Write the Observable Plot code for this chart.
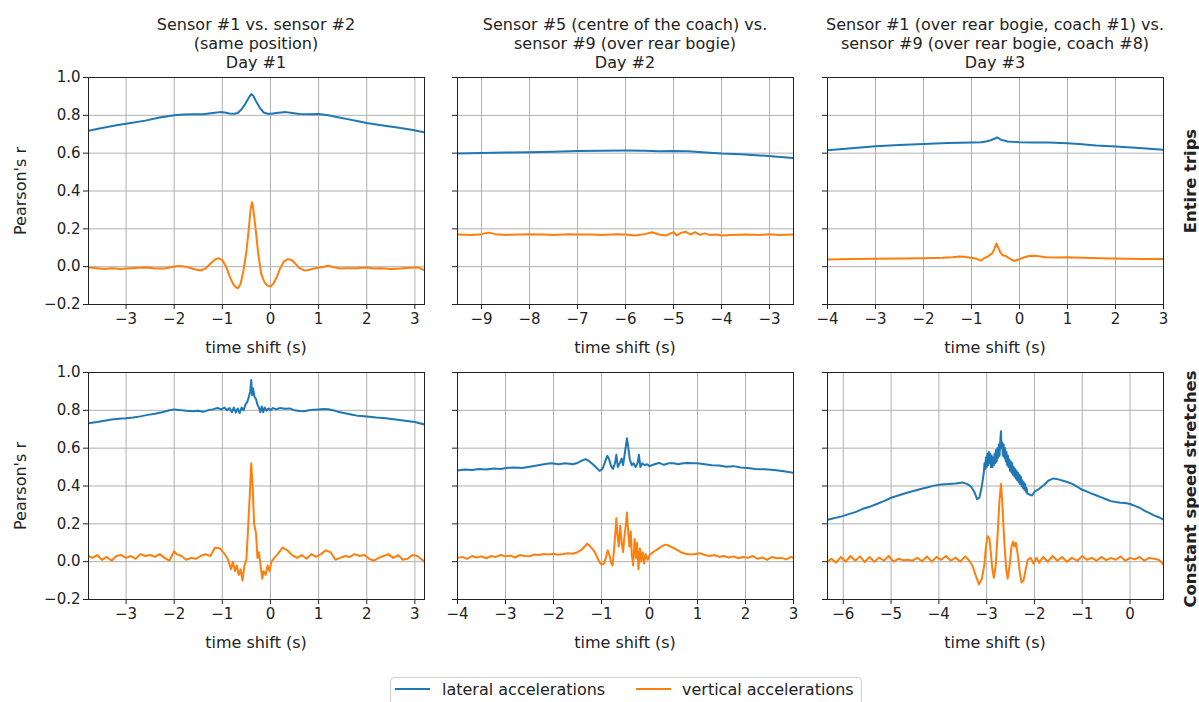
<!DOCTYPE html>
<html>
<head>
<meta charset="utf-8">
<script src="https://cdn.jsdelivr.net/npm/d3@7"></script>
<script src="https://cdn.jsdelivr.net/npm/@observablehq/plot@0.6"></script>
<style>
  body { margin: 0; background: #fff; font-family: "DejaVu Sans", sans-serif; color: #222; }
  #fig { position: relative; width: 1199px; height: 702px; overflow: hidden; background: #fff; }
  .abs { position: absolute; white-space: nowrap; }
  .title { font-size: 16px; line-height: 19px; text-align: center; width: 420px; transform: translateX(-50%); }
  .xlab { font-size: 16px; transform: translate(-50%, -50%); }
  .rot { font-size: 16px; transform: translate(-50%, -50%) rotate(-90deg); }
  .rowlab { font-size: 16.4px; font-weight: bold; transform: translate(-50%, -50%) rotate(-90deg); }
  .legend { border: 1px solid #cfcfcf; border-radius: 4px; background: #fff; }
  .swatch { height: 2px; }
  .legtext { font-size: 16px; transform: translateY(-50%); }
</style>
</head>
<body>
<div id="fig"></div>
<script>
// ---- Panel titles -------------------------------------------------------
const colTitles = [
  ["Sensor #1 vs. sensor #2", "(same position)", "Day #1"],
  ["Sensor #5 (centre of the coach) vs.", "sensor #9 (over rear bogie)", "Day #2"],
  ["Sensor #1 (over rear bogie, coach #1) vs.", "sensor #9 (over rear bogie, coach #8)", "Day #3"]
];
const rowLabels = ["Entire trips", "Constant speed stretches"];
const seriesNames = ["lateral accelerations", "vertical accelerations"];
const seriesColors = ["#1f77b4", "#ff7f0e"];
const yTicks = [-0.2, 0.0, 0.2, 0.4, 0.6, 0.8, 1.0];

// ---- x domains and ticks per panel ------------------------------------------
const xDomainDay1 = [-3.78, 3.2];
const xTicksDay1 = [-3, -2, -1, 0, 1, 2, 3];
const xDomainDay2Entire = [-9.5, -2.5];
const xTicksDay2Entire = [-9, -8, -7, -6, -5, -4, -3];
const xDomainMinus4To3 = [-4, 3];
const xTicksMinus4To3 = [-4, -3, -2, -1, 0, 1, 2, 3];
const xDomainDay3Const = [-6.33, 0.7];
const xTicksDay3Const = [-6, -5, -4, -3, -2, -1, 0];

// ---- Entire trips, Day #1: [time shift (s), Pearson's r] --------------------
const day1EntireLat = [[-3.78,0.718],[-3.5,0.733],[-3.2,0.748],[-2.9,0.760],[-2.6,0.772],[-2.3,0.788],[-2.0,0.800],[-1.8,0.805],[-1.6,0.806],[-1.4,0.806],[-1.2,0.812],[-1.05,0.817],[-0.95,0.815],[-0.85,0.810],[-0.75,0.808],[-0.68,0.812],[-0.6,0.832],[-0.52,0.862],[-0.45,0.893],[-0.40,0.912],[-0.36,0.905],[-0.30,0.875],[-0.22,0.840],[-0.14,0.815],[-0.06,0.808],[0.02,0.808],[0.12,0.812],[0.22,0.815],[0.32,0.817],[0.45,0.812],[0.6,0.807],[0.8,0.806],[1.0,0.807],[1.2,0.800],[1.4,0.790],[1.6,0.780],[1.8,0.770],[2.0,0.760],[2.3,0.748],[2.6,0.737],[2.9,0.725],[3.2,0.710]];
const day1EntireVert = [[-3.78,-0.005],[-3.6,-0.008],[-3.45,-0.012],[-3.3,-0.008],[-3.1,-0.012],[-2.9,-0.008],[-2.7,-0.006],[-2.55,-0.004],[-2.4,-0.01],[-2.2,-0.01],[-2.05,-0.002],[-1.9,0.004],[-1.75,0.0],[-1.6,-0.012],[-1.45,-0.02],[-1.35,-0.01],[-1.25,0.015],[-1.15,0.038],[-1.08,0.045],[-1.0,0.035],[-0.92,0.0],[-0.85,-0.05],[-0.78,-0.09],[-0.72,-0.11],[-0.67,-0.113],[-0.62,-0.09],[-0.56,-0.02],[-0.5,0.08],[-0.45,0.2],[-0.41,0.31],[-0.38,0.34],[-0.35,0.29],[-0.3,0.18],[-0.25,0.06],[-0.19,-0.04],[-0.12,-0.085],[-0.06,-0.1],[0.0,-0.105],[0.06,-0.09],[0.12,-0.06],[0.2,-0.01],[0.28,0.028],[0.36,0.04],[0.44,0.035],[0.52,0.015],[0.6,-0.008],[0.7,-0.02],[0.8,-0.018],[0.9,-0.01],[1.0,-0.005],[1.1,-0.002],[1.2,0.005],[1.3,-0.002],[1.45,-0.01],[1.6,-0.008],[1.8,-0.008],[2.0,-0.004],[2.15,-0.01],[2.3,-0.008],[2.5,-0.012],[2.7,-0.01],[2.9,-0.006],[3.05,-0.004],[3.2,-0.018]];

// ---- Entire trips, Day #2 ---------------------------------------------------
const day2EntireLat = [[-9.5,0.598],[-9.0,0.601],[-8.5,0.603],[-8.0,0.605],[-7.5,0.608],[-7.0,0.611],[-6.5,0.613],[-6.0,0.614],[-5.6,0.613],[-5.3,0.610],[-5.0,0.612],[-4.7,0.610],[-4.4,0.605],[-4.0,0.598],[-3.6,0.594],[-3.2,0.588],[-2.9,0.582],[-2.5,0.574]];
const day2EntireVert = [[-9.5,0.17],[-9.2,0.168],[-9.0,0.172],[-8.85,0.18],[-8.7,0.172],[-8.5,0.168],[-8.2,0.17],[-8.0,0.172],[-7.7,0.17],[-7.5,0.168],[-7.2,0.172],[-7.0,0.17],[-6.7,0.17],[-6.5,0.168],[-6.2,0.172],[-6.0,0.17],[-5.8,0.165],[-5.6,0.172],[-5.45,0.182],[-5.3,0.17],[-5.15,0.165],[-5.0,0.183],[-4.93,0.165],[-4.85,0.178],[-4.75,0.185],[-4.65,0.17],[-4.55,0.182],[-4.45,0.168],[-4.35,0.176],[-4.25,0.168],[-4.1,0.17],[-4.0,0.165],[-3.8,0.168],[-3.5,0.17],[-3.2,0.168],[-3.0,0.172],[-2.8,0.168],[-2.5,0.17]];

// ---- Entire trips, Day #3 ---------------------------------------------------
const day3EntireLat = [[-4,0.616],[-3.5,0.626],[-3,0.636],[-2.5,0.643],[-2,0.649],[-1.5,0.654],[-1.0,0.657],[-0.8,0.658],[-0.7,0.662],[-0.6,0.668],[-0.52,0.676],[-0.47,0.683],[-0.43,0.678],[-0.38,0.67],[-0.32,0.667],[-0.25,0.662],[-0.15,0.66],[0,0.658],[0.3,0.657],[0.6,0.656],[1.0,0.653],[1.3,0.647],[1.6,0.64],[2.0,0.635],[2.5,0.627],[3.0,0.618]];
const day3EntireVert = [[-4,0.038],[-3.5,0.04],[-3,0.042],[-2.5,0.043],[-2,0.045],[-1.6,0.047],[-1.4,0.05],[-1.25,0.054],[-1.15,0.052],[-1.05,0.048],[-0.95,0.044],[-0.88,0.04],[-0.8,0.032],[-0.74,0.045],[-0.68,0.05],[-0.62,0.062],[-0.57,0.07],[-0.52,0.095],[-0.48,0.122],[-0.44,0.1],[-0.4,0.075],[-0.35,0.06],[-0.3,0.058],[-0.25,0.05],[-0.2,0.042],[-0.15,0.035],[-0.1,0.03],[-0.05,0.035],[0,0.04],[0.1,0.05],[0.2,0.056],[0.3,0.058],[0.4,0.055],[0.55,0.05],[0.8,0.048],[1.0,0.05],[1.3,0.047],[1.7,0.044],[2.2,0.042],[2.6,0.04],[3.0,0.04]];

// ---- Constant speed stretches, Day #1 ---------------------------------------
const day1ConstLat = [[-3.78,0.732],[-3.6,0.738],[-3.45,0.745],[-3.3,0.752],[-3.15,0.755],[-3.0,0.758],[-2.85,0.762],[-2.7,0.768],[-2.55,0.776],[-2.4,0.782],[-2.25,0.79],[-2.1,0.8],[-2.0,0.805],[-1.9,0.802],[-1.75,0.798],[-1.6,0.795],[-1.5,0.798],[-1.4,0.792],[-1.3,0.8],[-1.2,0.805],[-1.1,0.812],[-1.02,0.805],[-0.96,0.815],[-0.9,0.8],[-0.85,0.812],[-0.8,0.79],[-0.76,0.815],[-0.72,0.788],[-0.68,0.81],[-0.64,0.785],[-0.6,0.815],[-0.56,0.8],[-0.52,0.83],[-0.48,0.845],[-0.45,0.87],[-0.42,0.9],[-0.40,0.96],[-0.38,0.88],[-0.36,0.915],[-0.33,0.87],[-0.3,0.86],[-0.27,0.83],[-0.24,0.815],[-0.21,0.79],[-0.18,0.82],[-0.15,0.79],[-0.12,0.815],[-0.08,0.798],[-0.04,0.81],[0.0,0.8],[0.05,0.812],[0.12,0.805],[0.2,0.812],[0.3,0.808],[0.4,0.81],[0.5,0.8],[0.6,0.797],[0.7,0.795],[0.8,0.8],[0.9,0.803],[1.0,0.805],[1.1,0.807],[1.2,0.806],[1.3,0.8],[1.4,0.793],[1.5,0.787],[1.6,0.782],[1.7,0.777],[1.8,0.772],[1.9,0.77],[2.0,0.768],[2.2,0.762],[2.4,0.758],[2.6,0.752],[2.8,0.745],[3.0,0.738],[3.2,0.725]];
const day1ConstVert = [[-3.78,0.03],[-3.7,0.02],[-3.6,0.035],[-3.5,0.01],[-3.4,0.025],[-3.3,0.005],[-3.2,0.03],[-3.1,0.035],[-3.0,0.02],[-2.9,0.03],[-2.8,0.015],[-2.7,0.04],[-2.6,0.03],[-2.5,0.035],[-2.4,0.025],[-2.3,0.04],[-2.2,0.02],[-2.1,0.005],[-2.0,0.055],[-1.95,0.04],[-1.85,0.03],[-1.75,0.01],[-1.65,0.02],[-1.55,0.015],[-1.45,0.03],[-1.35,0.04],[-1.25,0.03],[-1.15,0.075],[-1.05,0.07],[-0.95,0.04],[-0.88,0.01],[-0.82,-0.04],[-0.78,0.0],[-0.74,-0.05],[-0.7,-0.02],[-0.66,-0.07],[-0.62,-0.04],[-0.58,-0.1],[-0.54,-0.02],[-0.5,0.01],[-0.47,0.15],[-0.43,0.35],[-0.4,0.52],[-0.37,0.4],[-0.34,0.2],[-0.3,0.15],[-0.27,0.02],[-0.24,0.05],[-0.2,-0.03],[-0.17,-0.09],[-0.14,-0.05],[-0.1,-0.07],[-0.06,-0.02],[-0.02,-0.05],[0.02,0.0],[0.08,0.02],[0.15,0.04],[0.25,0.075],[0.35,0.06],[0.45,0.035],[0.55,0.02],[0.65,0.035],[0.75,0.015],[0.85,0.04],[0.95,0.025],[1.05,0.04],[1.15,0.06],[1.25,0.05],[1.35,0.01],[1.45,0.02],[1.55,0.03],[1.65,0.025],[1.75,0.04],[1.85,0.03],[1.95,0.035],[2.05,0.015],[2.15,0.005],[2.25,0.02],[2.35,0.03],[2.45,0.04],[2.55,0.02],[2.65,0.035],[2.75,0.01],[2.85,0.015],[2.95,0.035],[3.05,0.03],[3.15,0.01],[3.2,0.0]];

// ---- Constant speed stretches, Day #2 ---------------------------------------
const day2ConstLat = [[-4,0.482],[-3.85,0.487],[-3.7,0.484],[-3.55,0.49],[-3.4,0.487],[-3.25,0.492],[-3.1,0.49],[-2.95,0.496],[-2.8,0.498],[-2.65,0.495],[-2.5,0.502],[-2.35,0.508],[-2.2,0.515],[-2.05,0.52],[-1.9,0.515],[-1.75,0.52],[-1.6,0.515],[-1.5,0.522],[-1.4,0.535],[-1.33,0.542],[-1.25,0.53],[-1.18,0.515],[-1.1,0.495],[-1.04,0.48],[-0.98,0.49],[-0.93,0.525],[-0.88,0.56],[-0.84,0.54],[-0.8,0.505],[-0.76,0.49],[-0.72,0.52],[-0.69,0.565],[-0.66,0.5],[-0.62,0.52],[-0.58,0.545],[-0.55,0.51],[-0.51,0.58],[-0.47,0.652],[-0.44,0.6],[-0.41,0.54],[-0.37,0.51],[-0.33,0.52],[-0.29,0.5],[-0.25,0.52],[-0.22,0.565],[-0.19,0.5],[-0.15,0.52],[-0.1,0.51],[-0.05,0.515],[0.0,0.505],[0.1,0.515],[0.2,0.522],[0.3,0.512],[0.4,0.52],[0.5,0.52],[0.6,0.515],[0.7,0.52],[0.8,0.522],[0.9,0.52],[1.0,0.52],[1.15,0.515],[1.3,0.51],[1.45,0.508],[1.6,0.502],[1.75,0.505],[1.9,0.498],[2.05,0.495],[2.2,0.49],[2.4,0.488],[2.6,0.485],[2.8,0.478],[3.0,0.47]];
const day2ConstVert = [[-4,0.02],[-3.9,0.025],[-3.8,0.015],[-3.7,0.03],[-3.6,0.022],[-3.5,0.028],[-3.4,0.018],[-3.3,0.03],[-3.2,0.025],[-3.1,0.035],[-3.0,0.028],[-2.9,0.032],[-2.8,0.022],[-2.7,0.035],[-2.6,0.03],[-2.5,0.028],[-2.4,0.038],[-2.3,0.035],[-2.2,0.04],[-2.1,0.038],[-2.0,0.042],[-1.9,0.036],[-1.8,0.04],[-1.7,0.045],[-1.6,0.042],[-1.5,0.05],[-1.42,0.062],[-1.35,0.08],[-1.3,0.095],[-1.25,0.085],[-1.2,0.07],[-1.15,0.055],[-1.1,0.03],[-1.05,0.0],[-1.0,-0.015],[-0.95,-0.01],[-0.91,0.02],[-0.87,0.06],[-0.83,0.03],[-0.8,-0.005],[-0.77,-0.02],[-0.74,0.06],[-0.71,0.16],[-0.69,0.23],[-0.67,0.15],[-0.64,0.08],[-0.61,0.19],[-0.58,0.1],[-0.55,0.05],[-0.52,0.14],[-0.49,0.2],[-0.47,0.26],[-0.45,0.18],[-0.42,0.08],[-0.39,0.16],[-0.37,0.04],[-0.34,-0.02],[-0.31,0.12],[-0.28,0.02],[-0.26,0.1],[-0.23,-0.04],[-0.2,0.07],[-0.17,0.0],[-0.14,0.05],[-0.11,-0.01],[-0.08,0.04],[-0.04,0.01],[0.0,0.035],[0.05,0.045],[0.1,0.055],[0.18,0.068],[0.25,0.08],[0.32,0.09],[0.4,0.085],[0.48,0.075],[0.56,0.065],[0.65,0.05],[0.75,0.042],[0.85,0.038],[0.95,0.04],[1.05,0.045],[1.15,0.035],[1.25,0.03],[1.35,0.035],[1.45,0.025],[1.55,0.03],[1.65,0.022],[1.75,0.028],[1.85,0.018],[1.95,0.025],[2.05,0.02],[2.15,0.03],[2.25,0.015],[2.35,0.022],[2.45,0.01],[2.55,0.025],[2.65,0.018],[2.75,0.02],[2.85,0.012],[2.95,0.025],[3.0,0.02]];

// ---- Constant speed stretches, Day #3 ---------------------------------------
const day3ConstLat = [[-6.33,0.222],[-6.2,0.23],[-6.05,0.238],[-5.9,0.25],[-5.75,0.262],[-5.6,0.278],[-5.45,0.29],[-5.3,0.305],[-5.15,0.32],[-5.0,0.338],[-4.85,0.35],[-4.7,0.362],[-4.55,0.372],[-4.4,0.383],[-4.25,0.392],[-4.1,0.402],[-3.95,0.408],[-3.8,0.41],[-3.65,0.413],[-3.5,0.418],[-3.4,0.41],[-3.32,0.395],[-3.26,0.37],[-3.2,0.33],[-3.15,0.34],[-3.1,0.4],[-3.06,0.47],[-3.045,0.52],[-3.03,0.49],[-3.015,0.55],[-3.0,0.5],[-2.985,0.57],[-2.97,0.51],[-2.955,0.58],[-2.94,0.52],[-2.925,0.57],[-2.91,0.5],[-2.895,0.56],[-2.88,0.5],[-2.865,0.55],[-2.85,0.51],[-2.835,0.57],[-2.82,0.52],[-2.805,0.59],[-2.79,0.53],[-2.775,0.6],[-2.76,0.55],[-2.745,0.62],[-2.73,0.56],[-2.715,0.64],[-2.7,0.69],[-2.69,0.6],[-2.675,0.63],[-2.66,0.56],[-2.645,0.62],[-2.63,0.55],[-2.615,0.6],[-2.6,0.53],[-2.585,0.58],[-2.57,0.51],[-2.555,0.56],[-2.54,0.5],[-2.525,0.54],[-2.51,0.48],[-2.495,0.53],[-2.48,0.47],[-2.465,0.52],[-2.45,0.46],[-2.435,0.5],[-2.42,0.45],[-2.405,0.49],[-2.39,0.44],[-2.375,0.48],[-2.36,0.43],[-2.345,0.47],[-2.33,0.42],[-2.315,0.46],[-2.3,0.41],[-2.285,0.45],[-2.27,0.4],[-2.255,0.43],[-2.24,0.39],[-2.225,0.42],[-2.21,0.38],[-2.195,0.41],[-2.18,0.37],[-2.165,0.39],[-2.15,0.36],[-2.1,0.355],[-2.05,0.35],[-2.0,0.37],[-1.9,0.385],[-1.8,0.405],[-1.7,0.43],[-1.6,0.44],[-1.5,0.435],[-1.4,0.428],[-1.3,0.42],[-1.2,0.41],[-1.1,0.395],[-1.0,0.38],[-0.9,0.37],[-0.8,0.36],[-0.7,0.35],[-0.6,0.34],[-0.5,0.33],[-0.4,0.32],[-0.3,0.315],[-0.2,0.312],[-0.1,0.31],[0.0,0.305],[0.1,0.295],[0.2,0.285],[0.3,0.27],[0.4,0.258],[0.5,0.245],[0.6,0.235],[0.7,0.222]];
const day3ConstVert = [[-6.33,0.0],[-6.25,0.015],[-6.15,-0.005],[-6.05,0.025],[-5.95,0.0],[-5.85,0.03],[-5.75,0.005],[-5.65,0.028],[-5.55,-0.002],[-5.45,0.025],[-5.35,0.0],[-5.25,0.022],[-5.15,0.005],[-5.05,0.03],[-4.95,0.0],[-4.85,0.015],[-4.75,0.008],[-4.65,0.01],[-4.55,0.005],[-4.45,0.02],[-4.35,0.002],[-4.25,0.028],[-4.15,0.0],[-4.05,0.025],[-3.95,0.01],[-3.85,0.03],[-3.75,0.005],[-3.65,0.022],[-3.55,0.0],[-3.45,0.028],[-3.38,0.01],[-3.3,-0.02],[-3.22,-0.08],[-3.16,-0.12],[-3.1,-0.09],[-3.05,-0.02],[-3.01,0.09],[-2.98,0.135],[-2.94,0.12],[-2.91,0.04],[-2.88,-0.04],[-2.85,-0.085],[-2.81,-0.02],[-2.77,0.15],[-2.73,0.33],[-2.7,0.41],[-2.67,0.3],[-2.63,0.1],[-2.59,-0.04],[-2.56,-0.09],[-2.52,-0.02],[-2.48,0.08],[-2.45,0.105],[-2.42,0.08],[-2.39,0.1],[-2.35,0.04],[-2.31,-0.05],[-2.27,-0.11],[-2.23,-0.1],[-2.19,-0.05],[-2.14,0.01],[-2.08,0.02],[-2.02,-0.01],[-1.96,0.02],[-1.9,-0.005],[-1.82,0.025],[-1.72,0.0],[-1.62,0.03],[-1.52,0.005],[-1.42,0.025],[-1.32,0.0],[-1.22,0.02],[-1.1,0.005],[-1.0,0.03],[-0.9,0.01],[-0.8,0.02],[-0.7,0.005],[-0.6,0.025],[-0.5,0.008],[-0.4,0.02],[-0.3,0.01],[-0.2,0.028],[-0.1,0.005],[0.0,0.02],[0.1,0.012],[0.2,0.025],[0.3,0.005],[0.4,0.02],[0.5,0.015],[0.6,0.01],[0.7,-0.015]];

// ---- Layout --------------------------------------------------------------
const fig = document.getElementById("fig");
const frameW = 336, frameH = 227;
const colLeft = [88, 457, 827];
const rowTop = [77, 372];
const fmtInt = d3.format("d");
const fmt1 = d3.format(".1f");

function addDiv(cls, text, left, top, extra = {}) {
  const el = document.createElement("div");
  el.className = "abs " + cls;
  el.textContent = text;
  el.style.left = left + "px";
  el.style.top = top + "px";
  Object.assign(el.style, extra);
  fig.appendChild(el);
  return el;
}

function panel(col, row, domain, ticks, lat, vert) {
  const mL = 52, mR = 8, mT = 8, mB = 34;
  const svg = Plot.plot({
    width: frameW + mL + mR,
    height: frameH + mT + mB,
    marginLeft: mL, marginRight: mR, marginTop: mT, marginBottom: mB,
    style: {fontFamily: "DejaVu Sans", fontSize: "15px", color: "#222", background: "none", overflow: "visible"},
    x: {domain, label: null},
    y: {domain: [-0.2, 1.0], label: null},
    marks: [
      Plot.gridX(ticks, {stroke: "#b0b0b0", strokeOpacity: 1, strokeWidth: 1}),
      Plot.gridY(yTicks, {stroke: "#b0b0b0", strokeOpacity: 1, strokeWidth: 1}),
      Plot.line(lat, {x: d => d[0], y: d => d[1], stroke: seriesColors[0], strokeWidth: 2, clip: true}),
      Plot.line(vert, {x: d => d[0], y: d => d[1], stroke: seriesColors[1], strokeWidth: 2, clip: true}),
      Plot.frame({stroke: "#222", strokeWidth: 1}),
      Plot.axisX(ticks, {tickSize: 5, tickPadding: 4, tickFormat: fmtInt, label: null, stroke: "#222"}),
      Plot.axisY(yTicks, {tickSize: 5, tickPadding: 3, tickFormat: col === 0 ? fmt1 : () => "", label: null, stroke: "#222"})
    ]
  });
  svg.style.position = "absolute";
  svg.style.left = (colLeft[col] - mL) + "px";
  svg.style.top = (rowTop[row] - mT) + "px";
  fig.appendChild(svg);
  addDiv("xlab", "time shift (s)", colLeft[col] + frameW / 2, rowTop[row] + frameH + 43);
}

panel(0, 0, xDomainDay1, xTicksDay1, day1EntireLat, day1EntireVert);
panel(1, 0, xDomainDay2Entire, xTicksDay2Entire, day2EntireLat, day2EntireVert);
panel(2, 0, xDomainMinus4To3, xTicksMinus4To3, day3EntireLat, day3EntireVert);
panel(0, 1, xDomainDay1, xTicksDay1, day1ConstLat, day1ConstVert);
panel(1, 1, xDomainMinus4To3, xTicksMinus4To3, day2ConstLat, day2ConstVert);
panel(2, 1, xDomainDay3Const, xTicksDay3Const, day3ConstLat, day3ConstVert);

// Column titles
colTitles.forEach((lines, i) => {
  const el = addDiv("title", "", colLeft[i] + frameW / 2, 15);
  el.innerHTML = lines.map(s => s.replace(/&/g, "&amp;").replace(/</g, "&lt;")).join("<br>");
});

// y-axis labels
rowTop.forEach(t => addDiv("rot", "Pearson's r", 20, t + frameH / 2));

// Row labels on the right
addDiv("rowlab", rowLabels[0], 1190, 181);
addDiv("rowlab", rowLabels[1], 1190, 489);

// Legend
addDiv("legend", "", 390, 677, {width: "470px", height: "34px"});
const legItems = [
  {x0: 395, tx: 442},
  {x0: 636, tx: 682}
];
legItems.forEach((it, i) => {
  addDiv("swatch", "", it.x0, 688, {width: "35px", background: seriesColors[i]});
  addDiv("legtext", seriesNames[i], it.tx, 689);
});
</script>
</body>
</html>
